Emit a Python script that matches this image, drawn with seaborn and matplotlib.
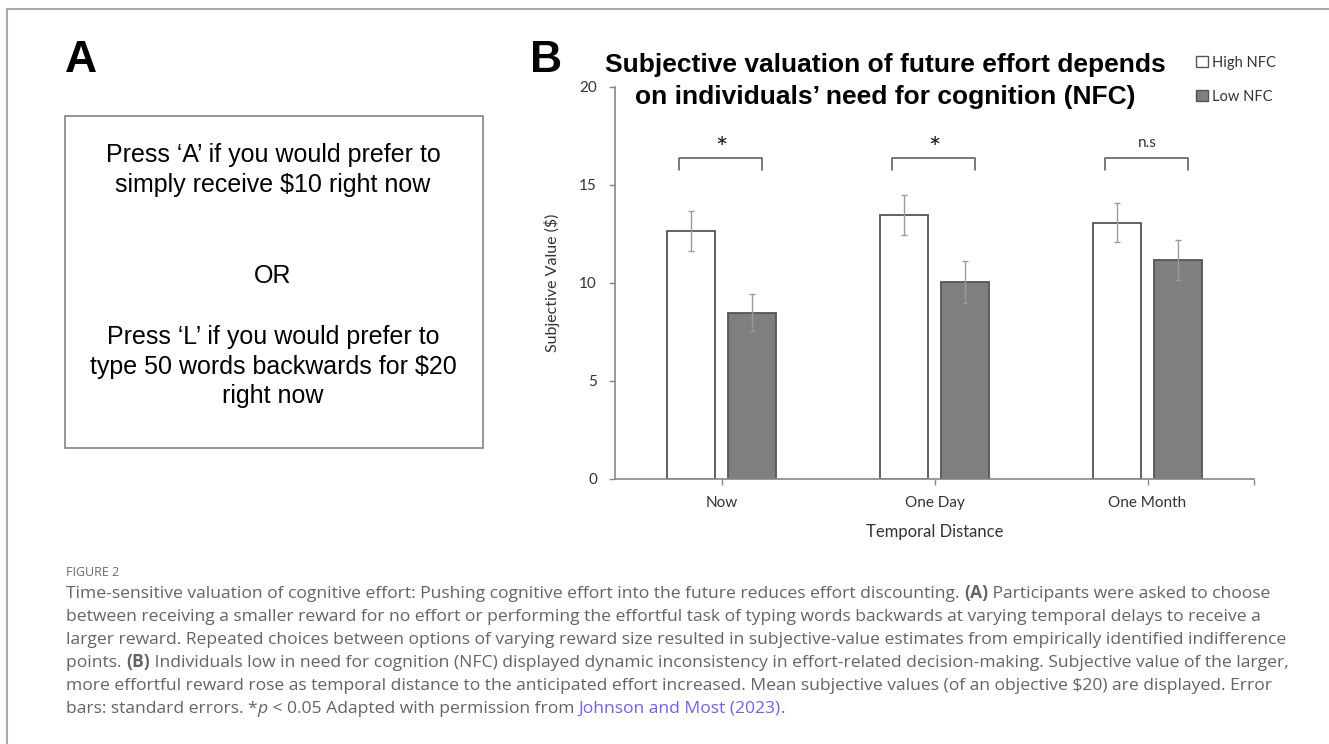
import matplotlib
matplotlib.use('Agg')
import matplotlib.pyplot as plt
import seaborn as sns
import pandas as pd
from matplotlib.patches import Rectangle, Patch
from matplotlib.lines import Line2D

# --- data ---
categories = ['Now', 'One Day', 'One Month']
groups = ['High NFC', 'Low NFC']
high_nfc = [12.65, 13.47, 13.08]
high_se = [1.00, 1.00, 0.98]
low_nfc = [8.48, 10.07, 11.17]
low_se = [0.95, 1.07, 1.02]
sig_labels = ['*', '*', 'n.s']
y_ticks = [0, 5, 10, 15, 20]

panel_a_lines = ["Press \u2018A\u2019 if you would prefer to",
                 "simply receive $10 right now",
                 "OR",
                 "Press \u2018L\u2019 if you would prefer to",
                 "type 50 words backwards for $20",
                 "right now"]

title_lines = ["Subjective valuation of future effort depends",
               "on individuals\u2019 need for cognition (NFC)"]

df = pd.DataFrame({
    'distance': categories * 2,
    'group': [groups[0]] * 3 + [groups[1]] * 3,
    'value': high_nfc + low_nfc,
})

W, H = 1329, 744
sns.set_style('white')
plt.rcParams['font.family'] = ['Lato', 'DejaVu Sans']

fig = plt.figure(figsize=(W / 100, H / 100), dpi=100)

def fx(px):
    return px / W

def fy(py):
    return 1 - py / H

# figure frame (top + left line)
fig.add_artist(Line2D([fx(7), 1], [fy(9), fy(9)], color='#aaaaaa', lw=1.5))
fig.add_artist(Line2D([fx(7), fx(7)], [fy(9), 0], color='#aaaaaa', lw=1.5))

# --- panel A ---
fig.text(fx(81), fy(61), 'A', family='Liberation Sans', weight='bold',
         fontsize=32, ha='center', va='center', color='black')
fig.add_artist(Rectangle((fx(65), fy(448)), fx(483) - fx(65), fy(116) - fy(448),
                         facecolor='white', edgecolor='#8c8c8c', lw=1.3))
line_y = [155, 185, 276, 337, 367, 396]
for txt, yy in zip(panel_a_lines, line_y):
    fig.text(fx(273), fy(yy), txt, family='Liberation Sans', fontsize=18,
             ha='center', va='center', color='black')

# --- panel B ---
fig.text(fx(546), fy(61), 'B', family='Liberation Sans', weight='bold',
         fontsize=32, ha='center', va='center', color='black')
for txt, yy in zip(title_lines, [72, 104]):
    fig.text(fx(885), fy(yy), txt, family='Liberation Sans', weight='bold',
             fontsize=19, ha='center', va='baseline', color='black')

ax = fig.add_axes([fx(615), fy(479), fx(1254) - fx(615), fy(87) - fy(479)])
sns.barplot(data=df, x='distance', y='value', hue='group', order=categories,
            hue_order=groups, palette={groups[0]: 'white', groups[1]: '#7f7f7f'},
            saturation=1, width=0.572, gap=0.21, edgecolor='#555555',
            linewidth=1.3, errorbar=None, legend=False, ax=ax)

for cont, se in zip(ax.containers, [high_se, low_se]):
    xs = [b.get_x() + b.get_width() / 2 for b in cont]
    hs = [b.get_height() for b in cont]
    ax.errorbar(xs, hs, yerr=se, fmt='none', ecolor='#9a9a9a',
                elinewidth=1, capsize=2.5, capthick=1, zorder=5)

# significance brackets
br_low, br_high, lab_y = 15.77, 16.38, 16.95
for i, lab in enumerate(sig_labels):
    ax.plot([i - 0.2, i - 0.2, i + 0.19, i + 0.19],
            [br_low, br_high, br_high, br_low], color='#555555', lw=1.1)
    if lab == '*':
        ax.text(i, lab_y - 0.55, lab, ha='center', va='baseline', fontsize=21,
                color='#111111')
    else:
        ax.text(i, lab_y, lab, ha='center', va='baseline', fontsize=11,
                color='#333333')

ax.set_xlim(-0.5, 2.5)
ax.set_ylim(0, 20)
ax.set_yticks(y_ticks)
ax.set_xticks(range(len(categories)))
ax.set_xticks([2.5], minor=True)
ax.set_xticklabels(categories)
for s in ['top', 'right']:
    ax.spines[s].set_visible(False)
for s in ['left', 'bottom']:
    ax.spines[s].set_color('#888888')
    ax.spines[s].set_linewidth(1.2)
ax.tick_params(axis='y', length=4, width=1, color='#888888', pad=9,
               labelsize=11, labelcolor='#333333', left=True)
ax.tick_params(axis='x', which='both', length=4, width=1, color='#888888',
               pad=8, labelsize=11, labelcolor='#333333', bottom=True)
ax.set_xlabel('Temporal Distance', fontsize=12, color='#333333', labelpad=10)
ax.set_ylabel('Subjective Value ($)', fontsize=11.5, color='#333333', labelpad=14)

handles = [Patch(facecolor='white', edgecolor='#555555', lw=1),
           Patch(facecolor='#7f7f7f', edgecolor='#555555', lw=1)]
fig.legend(handles, groups, loc='upper left', bbox_to_anchor=(fx(1190), fy(50)),
           frameon=False, fontsize=10.5, handlelength=0.8, handleheight=0.8,
           handletextpad=0.3, labelspacing=1.35, borderaxespad=0,
           labelcolor='#333333')

# --- caption ---
fig.canvas.draw()
renderer = fig.canvas.get_renderer()
cap_color = '#646464'
link_color = '#6f63e8'
cap_family = ['Open Sans', 'DejaVu Sans']

fig.text(fx(66), fy(576), 'FIGURE 2', fontsize=9, color='#6a6a6a',
         va='baseline', family=cap_family)


def text_width(txt, **kw):
    t1 = fig.text(0, 0, txt + '|', **kw)
    t2 = fig.text(0, 0, '|', **kw)
    w = t1.get_window_extent(renderer).width - t2.get_window_extent(renderer).width
    t1.remove()
    t2.remove()
    return w


bold = {'weight': 'bold'}
cap_lines = [
    [("Time-sensitive valuation of cognitive effort: Pushing cognitive effort into the future reduces effort discounting. ", {}),
     ("(A)", bold), (" Participants were asked to choose", {})],
    [("between receiving a smaller reward for no effort or performing the effortful task of typing words backwards at varying temporal delays to receive a", {})],
    [("larger reward. Repeated choices between options of varying reward size resulted in subjective-value estimates from empirically identified indifference", {})],
    [("points. ", {}), ("(B)", bold),
     (" Individuals low in need for cognition (NFC) displayed dynamic inconsistency in effort-related decision-making. Subjective value of the larger,", {})],
    [("more effortful reward rose as temporal distance to the anticipated effort increased. Mean subjective values (of an objective $20) are displayed. Error", {})],
    [("bars: standard errors. *", {}), ("p", {'style': 'italic'}),
     (" < 0.05 Adapted with permission from ", {}),
     ("Johnson and Most (2023)", {'color': link_color}), (".", {})],
]

# fit the caption size so that a full line spans the same width as the reference
probe = 10.0
probe_w = text_width(cap_lines[2][0][0], fontsize=probe, family=cap_family)
cap_size = probe * (1283 - 66) / probe_w
base = dict(fontsize=cap_size, color=cap_color, va='baseline', ha='left',
            family=cap_family)


def draw_runs(x_px, y_px, runs):
    for txt, extra in runs:
        kw = dict(base)
        kw.update(extra)
        fig.text(fx(x_px), fy(y_px), txt, **kw)
        x_px += text_width(txt, **kw)


cap_y = [598, 621, 644, 667, 690, 713]
for runs, yy in zip(cap_lines, cap_y):
    draw_runs(66, yy, runs)

fig.savefig('out.png', dpi=100, facecolor='white')
